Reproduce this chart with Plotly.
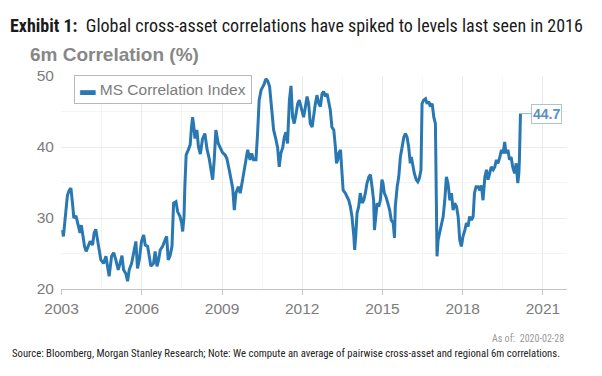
import plotly.graph_objects as go

# Decimal-year dates and 6m correlation values (%)
years = [
    2003.04, 2003.07, 2003.12, 2003.17, 2003.22, 2003.29, 2003.35, 2003.41, 2003.46, 2003.54,
    2003.62, 2003.69, 2003.74, 2003.80, 2003.86, 2003.92, 2004.00, 2004.07, 2004.16, 2004.22,
    2004.28, 2004.35, 2004.41, 2004.47, 2004.57, 2004.66, 2004.72, 2004.78, 2004.87, 2004.95,
    2005.03, 2005.12, 2005.19, 2005.26, 2005.32, 2005.41, 2005.47, 2005.53, 2005.62, 2005.72,
    2005.78, 2005.84, 2005.91, 2005.99, 2006.07, 2006.13, 2006.22, 2006.28, 2006.34, 2006.44,
    2006.50, 2006.57, 2006.63, 2006.69, 2006.78, 2006.87, 2006.93, 2006.99, 2007.06, 2007.13,
    2007.19, 2007.28, 2007.34, 2007.43, 2007.49, 2007.53, 2007.58, 2007.61, 2007.66, 2007.74,
    2007.81, 2007.86, 2007.90, 2007.94, 2007.99, 2008.06, 2008.12, 2008.19, 2008.27, 2008.36,
    2008.44, 2008.52, 2008.59, 2008.65, 2008.71, 2008.77, 2008.86, 2008.94, 2009.02, 2009.11,
    2009.18, 2009.27, 2009.33, 2009.40, 2009.46, 2009.52, 2009.61, 2009.68, 2009.77, 2009.83,
    2009.90, 2009.96, 2010.05, 2010.11, 2010.18, 2010.27, 2010.33, 2010.39, 2010.46, 2010.52,
    2010.58, 2010.64, 2010.71, 2010.78, 2010.86, 2010.93, 2011.02, 2011.08, 2011.14, 2011.20,
    2011.27, 2011.33, 2011.39, 2011.45, 2011.52, 2011.58, 2011.64, 2011.70, 2011.77, 2011.83,
    2011.89, 2011.99, 2012.05, 2012.12, 2012.18, 2012.24, 2012.30, 2012.37, 2012.43, 2012.49,
    2012.55, 2012.62, 2012.68, 2012.74, 2012.80, 2012.87, 2012.93, 2012.99, 2013.05, 2013.11,
    2013.18, 2013.24, 2013.28, 2013.33, 2013.36, 2013.43, 2013.49, 2013.53, 2013.61, 2013.68,
    2013.74, 2013.80, 2013.86, 2013.93, 2013.96, 2014.00, 2014.05, 2014.11, 2014.17, 2014.24,
    2014.30, 2014.36, 2014.42, 2014.49, 2014.55, 2014.61, 2014.67, 2014.70, 2014.74, 2014.80,
    2014.86, 2014.92, 2014.98, 2015.02, 2015.07, 2015.13, 2015.20, 2015.27, 2015.33, 2015.40,
    2015.45, 2015.48, 2015.55, 2015.61, 2015.67, 2015.73, 2015.80, 2015.86, 2015.92, 2015.98,
    2016.04, 2016.08, 2016.14, 2016.19, 2016.26, 2016.32, 2016.38, 2016.44, 2016.48, 2016.54,
    2016.61, 2016.67, 2016.73, 2016.79, 2016.86, 2016.92, 2016.98, 2017.02, 2017.04, 2017.08,
    2017.14, 2017.20, 2017.27, 2017.33, 2017.39, 2017.45, 2017.52, 2017.58, 2017.64, 2017.70,
    2017.77, 2017.83, 2017.89, 2017.95, 2018.01, 2018.08, 2018.14, 2018.20, 2018.26, 2018.33,
    2018.39, 2018.44, 2018.50, 2018.58, 2018.64, 2018.70, 2018.76, 2018.83, 2018.89, 2018.95,
    2019.01, 2019.07, 2019.14, 2019.20, 2019.26, 2019.32, 2019.39, 2019.45, 2019.51, 2019.57,
    2019.62, 2019.69, 2019.75, 2019.81, 2019.87, 2019.94, 2020.00, 2020.06, 2020.10, 2020.12,
    2020.16,
]
correlation = [
    28.3, 27.4, 29.3, 31.6, 33.2, 33.9, 34.2, 32.1, 30.0, 30.3,
    28.8, 27.9, 29.0, 27.4, 26.0, 25.3, 26.1, 26.7, 26.2, 27.9,
    28.4, 26.9, 25.1, 24.1, 23.6, 24.6, 23.2, 21.8, 24.6, 25.1,
    24.1, 22.7, 23.6, 24.7, 22.7, 22.1, 21.1, 22.7, 23.6, 25.5,
    26.7, 22.9, 24.2, 26.7, 27.6, 26.2, 26.0, 24.6, 23.2, 23.6,
    25.3, 23.2, 24.1, 25.5, 26.0, 26.9, 27.4, 24.1, 24.7, 26.0,
    32.1, 32.3, 30.9, 30.2, 29.3, 28.1, 30.2, 34.4, 38.9, 39.6,
    40.3, 42.8, 44.2, 43.1, 41.2, 42.4, 40.0, 39.0, 41.1, 41.9,
    39.7, 38.4, 36.8, 35.4, 38.2, 42.4, 40.5, 39.9, 39.2, 38.9,
    38.4, 36.8, 35.4, 34.2, 31.1, 33.5, 34.4, 33.5, 35.4, 36.8,
    38.2, 39.6, 38.2, 39.1, 38.2, 38.2, 41.9, 46.6, 48.0, 48.4,
    48.9, 49.6, 49.3, 48.5, 45.7, 42.4, 41.0, 39.9, 37.2, 39.1,
    39.9, 41.4, 42.1, 40.5, 46.6, 48.6, 44.2, 43.3, 44.7, 46.1,
    46.6, 45.2, 44.2, 45.7, 47.1, 46.1, 43.3, 42.8, 44.7, 46.1,
    47.3, 46.1, 45.7, 47.5, 47.8, 47.1, 47.5, 46.1, 45.2, 42.8,
    42.4, 40.0, 37.7, 38.2, 39.1, 39.6, 36.8, 33.9, 33.5, 33.0,
    32.5, 31.6, 30.2, 27.4, 25.5, 27.4, 30.7, 31.6, 33.5, 32.1,
    32.5, 33.5, 34.9, 35.8, 36.1, 34.4, 32.5, 28.3, 30.2, 32.1,
    31.6, 32.5, 35.4, 34.9, 33.5, 33.0, 32.1, 31.1, 29.7, 29.3,
    27.2, 31.6, 34.4, 35.8, 38.6, 40.0, 41.4, 41.9, 41.4, 40.0,
    37.7, 38.6, 37.2, 36.3, 35.4, 35.1, 35.6, 36.8, 46.1, 46.6,
    46.8, 46.1, 46.4, 45.7, 46.1, 44.2, 43.3, 31.1, 24.6, 26.9,
    27.9, 28.8, 30.2, 32.5, 35.8, 34.9, 32.5, 33.5, 31.1, 32.1,
    31.6, 30.2, 26.9, 26.0, 27.4, 28.3, 29.3, 28.8, 30.2, 29.7,
    30.2, 33.5, 34.4, 34.4, 33.9, 34.6, 32.5, 35.8, 36.8, 35.4,
    36.3, 37.2, 36.8, 37.2, 38.2, 37.7, 38.6, 39.6, 39.1, 40.7,
    39.1, 39.6, 38.2, 38.6, 37.2, 36.3, 37.7, 34.9, 36.3, 38.2,
    44.7,
]

x_tick_values = [2003, 2006, 2009, 2012, 2015, 2018, 2021]
x_tick_labels = ["2003", "2006", "2009", "2012", "2015", "2018", "2021"]
y_tick_values = [20, 30, 40, 50]

series_name = "MS Correlation Index"
last_label = "44.7"
as_of = "2020-02-28"

LINE = "#2a78b2"
GRAY = "#7c7c7c"
NARROW = "Liberation Sans Narrow, Roboto Condensed, Arial Narrow, sans-serif"
SANS = "Liberation Sans, Arial, sans-serif"

# The page body has an 8px margin, so the figure is sized/placed to compensate.
FIG_W, FIG_H = 594, 368

fig = go.Figure()
fig.add_trace(go.Scatter(
    x=years, y=correlation, mode="lines", name=series_name,
    line=dict(color=LINE, width=3), showlegend=False,
))

fig.update_layout(
    width=FIG_W, height=FIG_H, autosize=False,
    paper_bgcolor="white", plot_bgcolor="white",
    margin=dict(l=53, r=35, t=68, b=87),
    title=dict(
        text="<b>Exhibit 1:</b>  Global cross-asset correlations have spiked to levels last seen in 2016",
        x=2 / FIG_W, xanchor="left", xref="container",
        y=1 - 18 / FIG_H, yanchor="middle", yref="container",
        font=dict(family=NARROW, size=18, color="#1a1a1a"),
    ),
    xaxis=dict(
        range=[2002.98, 2021.9],
        tickmode="array", tickvals=x_tick_values, ticktext=x_tick_labels,
        showgrid=True, gridcolor="#ebebeb", gridwidth=1,
        minor=dict(tickmode="linear", tick0=2003, dtick=1.5, showgrid=True,
                   gridcolor="#f4f4f4", gridwidth=1),
        showline=True, linecolor="#c4c4c4", linewidth=1,
        ticks="outside", ticklen=5, tickcolor="#c4c4c4",
        tickfont=dict(family=SANS, size=15.5, color=GRAY),
        zeroline=False,
    ),
    yaxis=dict(
        range=[20, 50],
        tickmode="array", tickvals=y_tick_values,
        showgrid=True, gridcolor="#ebebeb", gridwidth=1,
        minor=dict(tickmode="linear", tick0=20, dtick=5, showgrid=True,
                   gridcolor="#f4f4f4", gridwidth=1),
        showline=False, zeroline=False,
        ticklabelstandoff=6,
        tickfont=dict(family=SANS, size=15.5, color=GRAY),
    ),
)

fig.add_annotation(
    xref="paper", yref="paper", x=(28 - 61) / 506, y=(289 - 55) / 213,
    xanchor="left", yanchor="middle", showarrow=False,
    text="<b>6m Correlation (%)</b>",
    font=dict(family=SANS, size=19, color="#878787"),
)

# legend box
fig.add_annotation(
    xref="paper", yref="paper", x=(74 - 61) / 506, y=(289 - 90) / 213,
    xanchor="left", yanchor="middle", showarrow=False,
    text=f"<span style='color:{LINE}'><b>▬</b></span> {series_name}",
    font=dict(family=SANS, size=15.5, color=GRAY),
    bordercolor="#b8b8b8", borderwidth=1, borderpad=5, bgcolor="white",
)

# last value label
fig.add_annotation(
    x=years[-1], y=correlation[-1], xref="x", yref="y",
    text=f"<b>{last_label}</b>", showarrow=True, arrowhead=0,
    arrowwidth=1, arrowcolor="#8fb3d3", ax=26, ay=0,
    font=dict(family=SANS, size=14, color="#5a8fbf"),
    bordercolor="#a9c4dc", borderwidth=1, borderpad=1, bgcolor="white",
)

fig.add_annotation(
    xref="paper", yref="paper", x=(566 - 61) / 506, y=(289 - 338.5) / 213,
    xanchor="right", yanchor="middle", showarrow=False,
    text=f"As of:  {as_of}",
    font=dict(family=NARROW, size=10, color="#9a9a9a"),
)

fig.add_annotation(
    xref="paper", yref="paper", x=(10 - 61) / 506, y=(289 - 353.5) / 213,
    xanchor="left", yanchor="middle", showarrow=False,
    text="Source: Bloomberg, Morgan Stanley Research; Note: We compute an average of pairwise cross-asset and regional 6m correlations.",
    font=dict(family=NARROW, size=10.7, color="#222222"),
)

fig.write_html("out.html")
